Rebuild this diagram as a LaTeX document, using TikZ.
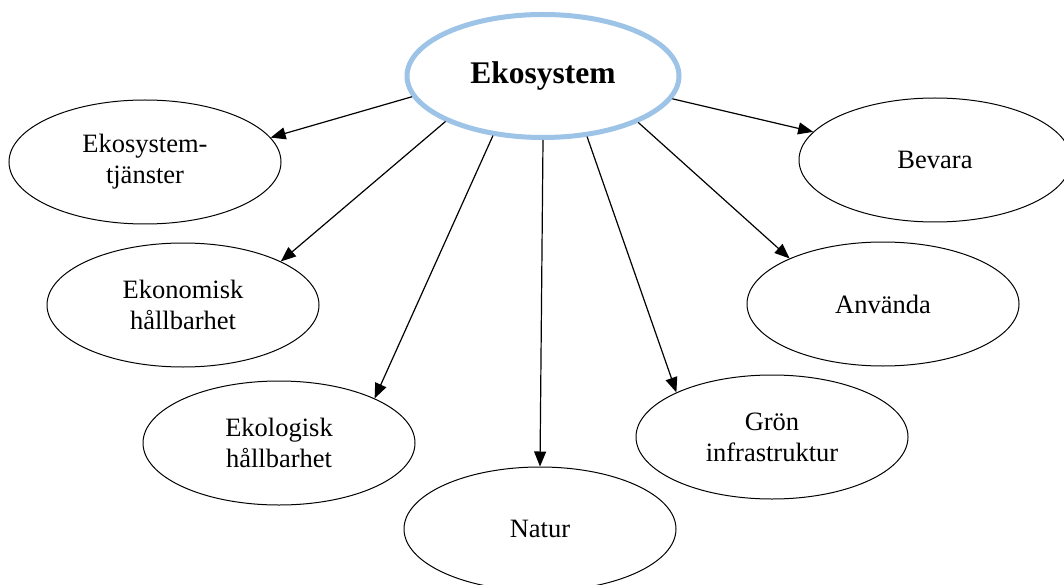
\documentclass[tikz,border=0pt]{standalone}
\usepackage{fontspec}
\setmainfont{Liberation Serif}
\usetikzlibrary{shapes.geometric,arrows.meta}
\definecolor{hubblue}{HTML}{9DC3E6}
\tikzset{
  leaf/.style={ellipse,draw=black,line width=1pt,minimum width=272pt,minimum height=124pt,inner sep=0pt,align=center,font=\fontsize{26.5}{31}\selectfont},
  hub/.style={ellipse,draw=hubblue,line width=5pt,minimum width=272pt,minimum height=123pt,inner sep=0pt,font=\fontsize{31.5}{36}\selectfont\bfseries},
  link/.style={line width=1.2pt,-{Triangle[length=15pt,width=12pt]}}
}
\begin{document}
\begin{tikzpicture}[x=1pt,y=-1pt]
\useasboundingbox (0,0) rectangle (1064,585);
\begin{scope}
\clip (0,0) rectangle (1064,585);
\node[hub] (c) at (543,76) {Ekosystem};
\node[leaf] (t) at (145,162) {Ekosystem-\\tjänster};
\node[leaf] (ek) at (183,305) {Ekonomisk\\hållbarhet};
\node[leaf] (eg) at (279,443) {Ekologisk\\hållbarhet};
\node[leaf] (n) at (540,529) {Natur};
\node[leaf] (g) at (772,437) {Grön\\infrastruktur};
\node[leaf] (a) at (883,304) {Använda};
\node[leaf] (b) at (935,160) {Bevara};
\draw[link] (c.189) -- (t.11);
\draw[link] (c.205.6) -- (ek.24.9);
\draw[link] (c.230.7) -- (eg.25.1);
\draw[link] (c.270) -- (n.90);
\draw[link] (c.306.3) -- (g.155.1);
\draw[link] (c.334.6) -- (a.154.9);
\draw[link] (c.350) -- (b.167.5);
\end{scope}
\end{tikzpicture}
\end{document}
